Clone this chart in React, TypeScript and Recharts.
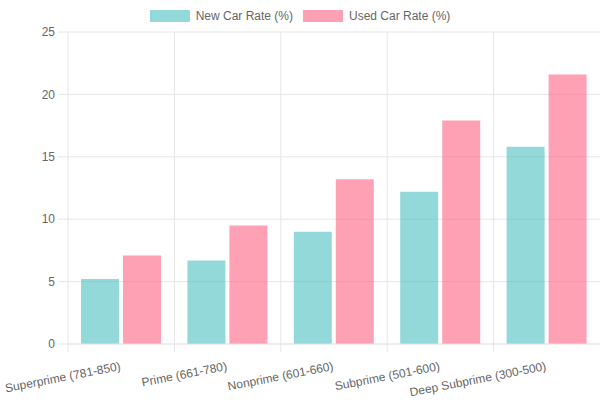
import React from "react";
import { Bar, BarChart, CartesianGrid, XAxis, YAxis } from "recharts";

const categories = [
  "Superprime (781-850)",
  "Prime (661-780)",
  "Nonprime (601-660)",
  "Subprime (501-600)",
  "Deep Subprime (300-500)",
];
const newCarRate = [5.2, 6.7, 9.0, 12.2, 15.8];
const usedCarRate = [7.1, 9.5, 13.2, 17.9, 21.6];
const yTicks = [0, 5, 10, 15, 20, 25];

const series = [
  { key: "newRate", name: "New Car Rate (%)", fill: "rgba(75,192,192,0.6)" },
  { key: "usedRate", name: "Used Car Rate (%)", fill: "rgba(255,99,132,0.6)" },
];

const data = categories.map((c, i) => ({
  name: c,
  newRate: newCarRate[i],
  usedRate: usedCarRate[i],
}));

const W = 600;
const H = 400;
const Y_W = 68;
const GRID = "#e6e6e6";
const TEXT = "#666";
const FONT = "'Liberation Sans', Arial, Helvetica, sans-serif";
const band = (W - Y_W) / categories.length;

function XTick(props: any) {
  const { x, y, payload } = props;
  const left = x - band / 2;
  return (
    <g>
      <line x1={left} x2={left} y1={y - 8} y2={y} stroke={GRID} />
      <text
        transform={`translate(${x},${y + 18}) rotate(-11)`}
        textAnchor="end"
        fill={TEXT}
        fontSize={12}
        fontFamily={FONT}
      >
        {payload.value}
      </text>
    </g>
  );
}

export default function App() {
  return (
    <div style={{ position: "absolute", left: 0, top: 0, width: W, height: H, fontFamily: FONT }}>
      <div
        style={{
          position: "absolute",
          top: 9,
          left: 0,
          width: W,
          display: "flex",
          justifyContent: "center",
          gap: 10,
          fontSize: 12,
          color: TEXT,
          lineHeight: "14px",
        }}
      >
        {series.map((s) => (
          <div key={s.key} style={{ display: "flex", alignItems: "center", gap: 6 }}>
            <span style={{ display: "inline-block", width: 40, height: 12, background: s.fill }} />
            <span>{s.name}</span>
          </div>
        ))}
      </div>
      <BarChart
        width={W}
        height={H}
        data={data}
        margin={{ top: 32, right: 0, bottom: 0, left: 0 }}
        barGap={4}
        barSize={38}
      >
        <CartesianGrid
          stroke={GRID}
          verticalCoordinatesGenerator={({ offset }: any) =>
            categories.map((_, i) => offset.left + i * (offset.width / categories.length))
          }
        />
        <XAxis
          dataKey="name"
          height={56}
          interval={0}
          tickLine={false}
          tickSize={8}
          tickMargin={0}
          axisLine={{ stroke: GRID }}
          tick={(p: any) => <XTick {...p} />}
        />
        <YAxis
          width={Y_W}
          domain={[0, 25]}
          ticks={yTicks}
          tickSize={10}
          tickMargin={3}
          axisLine={false}
          tickLine={{ stroke: GRID }}
          tick={{ fill: TEXT, fontSize: 12, fontFamily: FONT }}
        />
        {series.map((s) => (
          <Bar
            key={s.key}
            dataKey={s.key}
            name={s.name}
            fill={s.fill}
            isAnimationActive={false}
          />
        ))}
      </BarChart>
    </div>
  );
}
